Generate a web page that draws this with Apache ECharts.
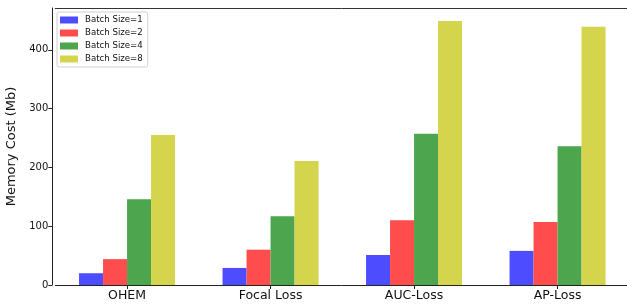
<!DOCTYPE html>
<html>
<head>
<meta charset="utf-8">
<script src="https://cdn.jsdelivr.net/npm/echarts@6/dist/echarts.min.js"></script>
<style>
  html, body { margin: 0; padding: 0; background: #fff; overflow: hidden; }
  #chart { width: 627px; height: 306px; }
</style>
</head>
<body>
<div id="chart"></div>
<script>
// 数据
const categories = ['OHEM', 'Focal Loss', 'AUC-Loss', 'AP-Loss']
const batch1 = [20, 29, 51, 58]
const batch2 = [44, 60, 110, 107]
const batch4 = [146, 117, 257, 236]
const batch8 = [255, 211, 449, 439]
const seriesNames = ['Batch Size=1', 'Batch Size=2', 'Batch Size=4', 'Batch Size=8']
const colors = ['#4d4dff', '#ff4d4d', '#4da64d', '#d4d44d']

const myChart = echarts.init(document.getElementById('chart'))
const font = 'DejaVu Sans'

const seriesArr = [batch1, batch2, batch4, batch8].map((data, index) => {
  return {
    name: seriesNames[index],
    type: 'bar',
    data: data,
    barWidth: 24,
    barGap: '0%',
    itemStyle: { color: colors[index] }
  }
})

const option = {
  animation: false,
  textStyle: { fontFamily: font },
  grid: {
    left: 55.3,
    width: 574,
    top: 8,
    bottom: 21,
    containLabel: false,
    outerBoundsMode: 'none'
  },
  legend: {
    orient: 'vertical',
    left: 57,
    top: 12,
    data: seriesNames,
    icon: 'rect',
    itemWidth: 18,
    itemHeight: 7,
    itemGap: 3,
    padding: [3, 5, 3, 3],
    borderColor: '#d0d0d0',
    borderWidth: 1,
    borderRadius: 2,
    backgroundColor: 'rgba(255,255,255,0.8)',
    textStyle: {
      fontFamily: font,
      fontSize: 8.6,
      lineHeight: 10,
      color: '#111',
      padding: [0, 0, 0, 2]
    }
  },
  xAxis: [{
    type: 'category',
    data: categories,
    position: 'bottom',
    axisLine: { lineStyle: { color: '#222', width: 1 } },
    axisTick: { show: true, alignWithLabel: true, length: 4, lineStyle: { color: '#222' } },
    axisLabel: { fontFamily: font, fontSize: 12.5, color: '#111', margin: 4 },
    splitLine: { show: false }
  }, {
    // 顶部边框
    type: 'category',
    data: categories,
    position: 'top',
    axisLine: { lineStyle: { color: '#333', width: 1 } },
    axisTick: { show: false },
    axisLabel: { show: false },
    splitLine: { show: false }
  }],
  yAxis: {
    type: 'value',
    min: 0,
    max: 471,
    interval: 100,
    offset: 3,
    name: 'Memory Cost (Mb)',
    nameLocation: 'middle',
    nameGap: 22,
    nameTextStyle: { fontFamily: font, fontSize: 13, color: '#111' },
    axisLine: { show: true, lineStyle: { color: '#222', width: 1 } },
    axisTick: { show: true, length: 4, lineStyle: { color: '#222' } },
    axisLabel: { fontFamily: font, fontSize: 10, color: '#111', margin: 4, showMaxLabel: false },
    splitLine: { show: false }
  },
  series: seriesArr
}
myChart.setOption(option)
</script>
</body>
</html>
